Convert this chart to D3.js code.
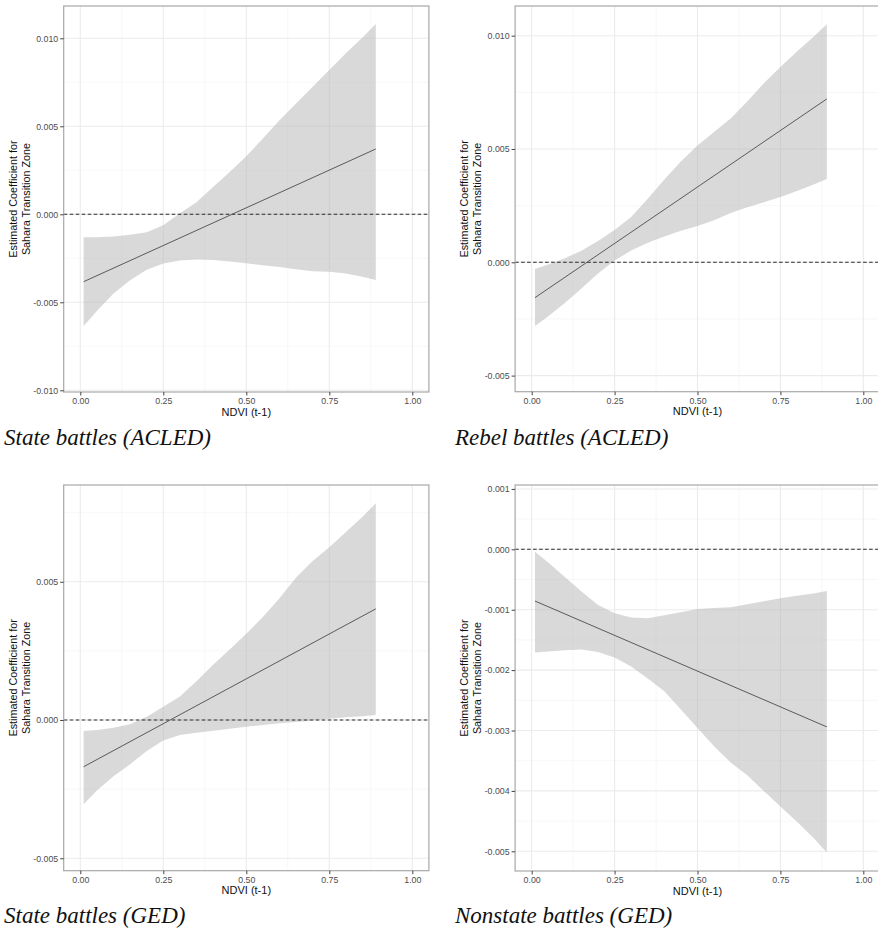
<!DOCTYPE html>
<html><head><meta charset="utf-8">
<script src="https://cdn.jsdelivr.net/npm/d3@7"></script>
<style>body{margin:0;background:#fff}</style>
</head><body><svg id="c" width="878" height="930" xmlns="http://www.w3.org/2000/svg"></svg>
<script>
// ---- data ----
const ndvi = [0.01,0.05,0.10,0.15,0.20,0.25,0.30,0.35,0.40,0.45,0.50,0.55,0.60,0.65,0.70,0.75,0.80,0.85,0.89];

const stateAcledUpper = [-0.00131,-0.00130,-0.00126,-0.00116,-0.00102,-0.00062,0.00006,0.00069,0.00155,0.00240,0.00330,0.00430,0.00535,0.00630,0.00725,0.00820,0.00915,0.01005,0.01081];
const stateAcledLower = [-0.00635,-0.00550,-0.00450,-0.00375,-0.00315,-0.00280,-0.00263,-0.00257,-0.00260,-0.00268,-0.00278,-0.00290,-0.00300,-0.00312,-0.00323,-0.00327,-0.00336,-0.00355,-0.00373];
const stateAcledLine = [-0.00383, 0.00371];

const rebelAcledUpper = [-0.00030,-0.00010,0.00018,0.00051,0.00094,0.00142,0.00200,0.00280,0.00365,0.00445,0.00515,0.00575,0.00635,0.00710,0.00790,0.00862,0.00930,0.00995,0.01050];
const rebelAcledLower = [-0.00281,-0.00238,-0.00180,-0.00116,-0.00049,0.00008,0.00052,0.00086,0.00114,0.00139,0.00160,0.00186,0.00218,0.00243,0.00265,0.00288,0.00315,0.00343,0.00368];
const rebelAcledLine = [-0.00156, 0.00721];

const stateGedUpper = [-0.00040,-0.00036,-0.00028,-0.00015,0.00012,0.00048,0.00085,0.00140,0.00200,0.00255,0.00312,0.00373,0.00440,0.00515,0.00575,0.00625,0.00680,0.00735,0.00784];
const stateGedLower = [-0.00305,-0.00255,-0.00203,-0.00160,-0.00112,-0.00074,-0.00054,-0.00046,-0.00039,-0.00032,-0.00024,-0.00018,-0.00012,-0.00007,-0.00002,0.00005,0.00010,0.00014,0.00018];
const stateGedLine = [-0.00169, 0.00402];

const nonstateGedUpper = [-0.00004,-0.00022,-0.00046,-0.00070,-0.00092,-0.00106,-0.00113,-0.00114,-0.00109,-0.00104,-0.00099,-0.00097,-0.00096,-0.00091,-0.00086,-0.00081,-0.00077,-0.00073,-0.00069];
const nonstateGedLower = [-0.00171,-0.00169,-0.00167,-0.00166,-0.00170,-0.00179,-0.00194,-0.00214,-0.00235,-0.00265,-0.00296,-0.00326,-0.00353,-0.00374,-0.00400,-0.00426,-0.00451,-0.00478,-0.00502];
const nonstateGedLine = [-0.000856, -0.00294];

const lineX = [0.01, 0.89];
const xTicks = [0, 0.25, 0.5, 0.75, 1.0];
const yTicksStateAcled = [-0.010,-0.005,0.000,0.005,0.010];
const yTicksRebelAcled = [-0.005,0.000,0.005,0.010];
const yTicksStateGed = [-0.005,0.000,0.005];
const yTicksNonstateGed = [-0.005,-0.004,-0.003,-0.002,-0.001,0.000,0.001];

const captions = ["State battles (ACLED)","Rebel battles (ACLED)","State battles (GED)","Nonstate battles (GED)"];
const xTitle = "NDVI (t-1)";
const yTitle = ["Estimated Coefficient for","Sahara Transition Zone"];

// ---- layout ----
const panels = [
  {upper:stateAcledUpper, lower:stateAcledLower, line:stateAcledLine, yTicks:yTicksStateAcled,
   left:63.7, right:428.9, top:6, bottom:392, ydom:[-0.010097,0.011835], caption:captions[0], capX:4, capY:445, ytx:[13.3,26.3]},
  {upper:rebelAcledUpper, lower:rebelAcledLower, line:rebelAcledLine, yTicks:yTicksRebelAcled,
   left:515.1, right:879.9, top:6, bottom:391.7, ydom:[-0.00571,0.01131], caption:captions[1], capX:455, capY:445, ytx:[464.3,477.3]},
  {upper:stateGedUpper, lower:stateGedLower, line:stateGedLine, yTicks:yTicksStateGed,
   left:63.7, right:428.9, top:485, bottom:870.7, ydom:[-0.00545,0.0085], caption:captions[2], capX:4, capY:923, ytx:[13.3,26.3]},
  {upper:nonstateGedUpper, lower:nonstateGedLower, line:nonstateGedLine, yTicks:yTicksNonstateGed,
   left:515.1, right:879.9, top:485, bottom:871, ydom:[-0.005326,0.001065], caption:captions[3], capX:455, capY:923, ytx:[464.3,477.3]}
];

const svg = d3.select("#c");
svg.append("rect").attr("width",878).attr("height",930).attr("fill","#fff");
const fmtY = v => d3.format(".3f")(v).replace("\u2212","-");
const fmtX = d3.format(".2f");
const sans = "'Liberation Sans', Arial, Helvetica, sans-serif";

panels.forEach((p,i) => {
  const x = d3.scaleLinear().domain([-0.05,1.05]).range([p.left,p.right]);
  const y = d3.scaleLinear().domain(p.ydom).range([p.bottom,p.top]);
  const g = svg.append("g");
  const clipId = "clip"+i;
  g.append("clipPath").attr("id",clipId).append("rect")
    .attr("x",p.left).attr("y",p.top).attr("width",p.right-p.left).attr("height",p.bottom-p.top);
  const inner = g.append("g").attr("clip-path",`url(#${clipId})`);

  // minor grid
  const step = p.yTicks[1]-p.yTicks[0];
  const yMinor = [];
  for (let k=-2;k<p.yTicks.length+1;k++){ yMinor.push(p.yTicks[0]+step*(k+0.5)); }
  const xMinor = [-0.125,0.125,0.375,0.625,0.875,1.125];
  inner.selectAll(".ymin").data(yMinor).join("line")
    .attr("x1",p.left).attr("x2",p.right).attr("y1",d=>y(d)).attr("y2",d=>y(d))
    .attr("stroke","#f3f3f3").attr("stroke-width",0.7);
  inner.selectAll(".xmin").data(xMinor).join("line")
    .attr("y1",p.top).attr("y2",p.bottom).attr("x1",d=>x(d)).attr("x2",d=>x(d))
    .attr("stroke","#f3f3f3").attr("stroke-width",0.7);
  // major grid
  inner.selectAll(".ymaj").data(p.yTicks).join("line")
    .attr("x1",p.left).attr("x2",p.right).attr("y1",d=>y(d)).attr("y2",d=>y(d))
    .attr("stroke","#ebebeb").attr("stroke-width",1.1);
  inner.selectAll(".xmaj").data(xTicks).join("line")
    .attr("y1",p.top).attr("y2",p.bottom).attr("x1",d=>x(d)).attr("x2",d=>x(d))
    .attr("stroke","#ebebeb").attr("stroke-width",1.1);

  // ribbon
  const area = d3.area().x((d,k)=>x(ndvi[k])).y0((d,k)=>y(p.lower[k])).y1((d,k)=>y(p.upper[k]));
  inner.append("path").datum(ndvi).attr("d",area).attr("fill","#b3b3b3").attr("fill-opacity",0.5);

  // zero line
  inner.append("line").attr("x1",p.left).attr("x2",p.right).attr("y1",y(0)).attr("y2",y(0))
    .attr("stroke","#2a2a2a").attr("stroke-width",1.1).attr("stroke-dasharray","3.6,2.4");

  // fitted line
  const ln = d3.line().x((d,k)=>x(lineX[k])).y(d=>y(d));
  inner.append("path").datum(p.line).attr("d",ln).attr("fill","none").attr("stroke","#5a5a5a").attr("stroke-width",1);

  // border
  g.append("rect").attr("x",p.left).attr("y",p.top).attr("width",p.right-p.left).attr("height",p.bottom-p.top)
    .attr("fill","none").attr("stroke","#a8a8a8").attr("stroke-width",1.2);

  // axes
  const ya = g.append("g").attr("transform",`translate(${p.left},0)`)
    .call(d3.axisLeft(y).tickValues(p.yTicks).tickFormat(fmtY).tickSize(3.5).tickPadding(2));
  ya.select(".domain").remove();
  ya.selectAll("line").attr("stroke","#444");
  ya.selectAll("text").attr("fill","#4d4d4d").style("font-family",sans).style("font-size","8.8px");
  const xa = g.append("g").attr("transform",`translate(0,${p.bottom})`)
    .call(d3.axisBottom(x).tickValues(xTicks).tickFormat(fmtX).tickSize(3.5).tickPadding(2.5));
  xa.select(".domain").remove();
  xa.selectAll("line").attr("stroke","#444");
  xa.selectAll("text").attr("fill","#4d4d4d").style("font-family",sans).style("font-size","8.8px");

  // axis titles
  g.append("text").attr("x",x(0.5)).attr("y",p.bottom+23.5)
    .attr("text-anchor","middle").style("font-family",sans).style("font-size","11px").attr("fill","#111").text(xTitle);
  const cy = (p.top+p.bottom)/2;
  yTitle.forEach((t,k)=>{
    g.append("text").attr("transform",`translate(${p.ytx[k]},${cy}) rotate(-90)`)
      .attr("text-anchor","middle").attr("dy","0.35em")
      .style("font-family",sans).style("font-size","10.8px").attr("fill","#111").text(t);
  });

  // caption
  g.append("text").attr("x",p.capX).attr("y",p.capY)
    .style("font-family","'Liberation Serif','Times New Roman',serif").style("font-style","italic")
    .style("font-size","23px").attr("fill","#111").text(p.caption);
});
</script>
</body></html>
